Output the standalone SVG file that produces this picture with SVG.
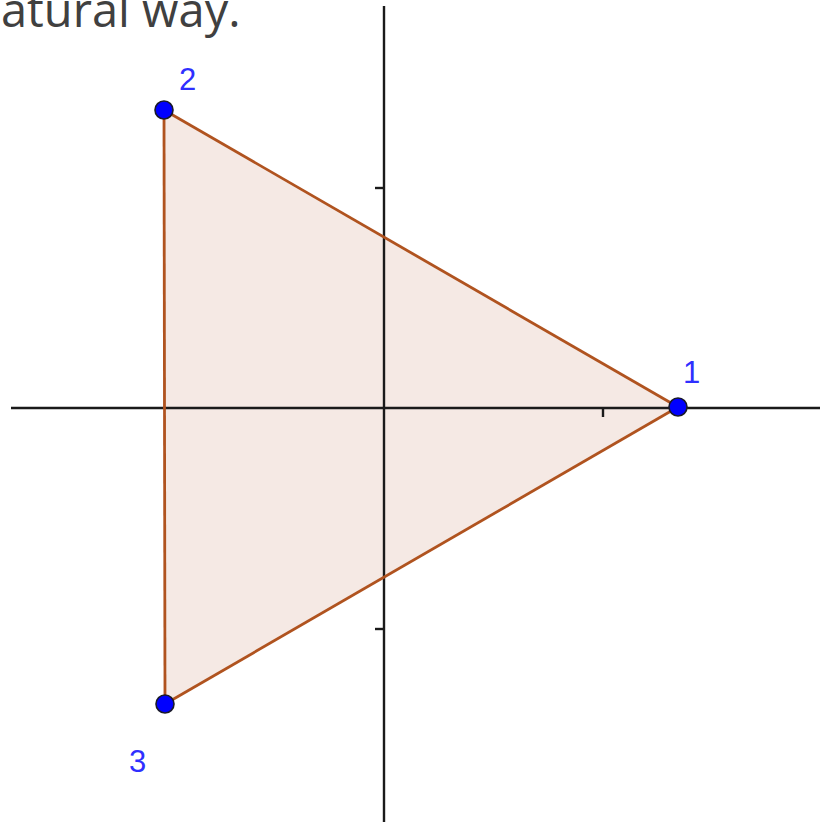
<svg xmlns="http://www.w3.org/2000/svg" width="820" height="822" viewBox="0 0 820 822">
<style>
.axis{stroke:#1a1a1a;stroke-width:2.4;fill:none}
.edge{stroke:#b0531f;stroke-width:2.8;fill:none}
.pt{fill:#0000ff;stroke:#1a1a2a;stroke-width:1.6}
.lbl{font-family:"Liberation Sans",Arial,sans-serif;font-size:31px;fill:#2f2fff}
.cap{font-family:"Open Sans","Liberation Sans",sans-serif;font-size:47px;fill:#404040}
</style>
<rect width="820" height="822" fill="#ffffff"/>
<text class="cap" x="1" y="27">atural way.</text>
<polygon points="678,407 164,110 165,704" fill="#f5e9e4" stroke="none"/>
<g id="axes">
<line class="axis" x1="384" y1="6" x2="384" y2="822"/>
<line class="axis" x1="11" y1="408" x2="820" y2="408"/>
<line class="axis" x1="375" y1="188" x2="384" y2="188"/>
<line class="axis" x1="375" y1="629" x2="384" y2="629"/>
<line class="axis" x1="603" y1="408" x2="603" y2="417"/>
</g>
<g id="connectors">
<line class="edge" x1="678" y1="407" x2="164" y2="110"/>
<line class="edge" x1="164" y1="110" x2="165" y2="704"/>
<line class="edge" x1="165" y1="704" x2="678" y2="407"/>
</g>
<g id="node1"><circle class="pt" cx="678" cy="407" r="9"/><text class="lbl" x="683" y="383">1</text></g>
<g id="node2"><circle class="pt" cx="164" cy="110" r="9"/><text class="lbl" x="179" y="90">2</text></g>
<g id="node3"><circle class="pt" cx="165" cy="704" r="9"/><text class="lbl" x="129" y="772">3</text></g>
</svg>
